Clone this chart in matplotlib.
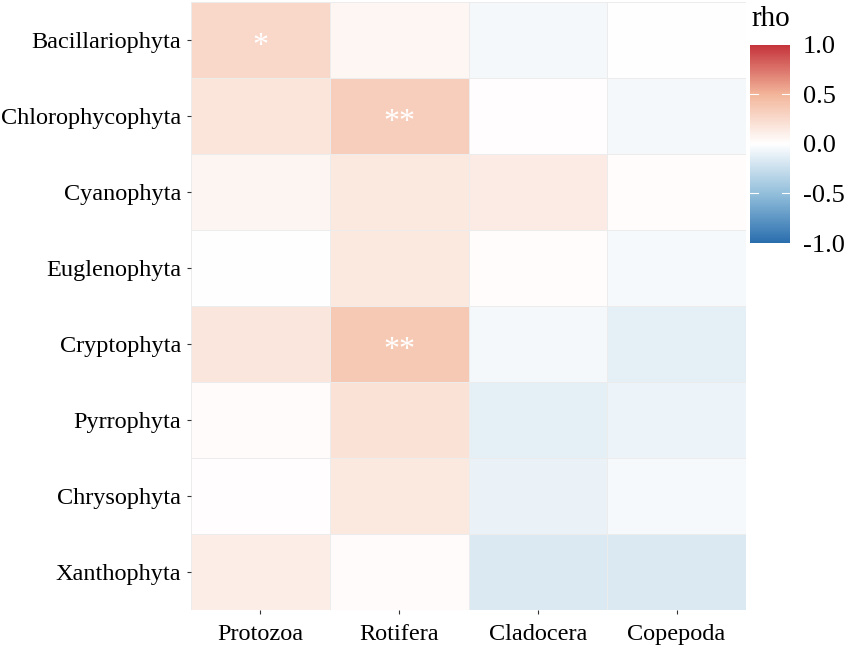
import numpy as np
import matplotlib.pyplot as plt
from matplotlib.colors import LinearSegmentedColormap

plt.rcParams['font.family'] = ['Liberation Serif', 'DejaVu Serif']

phyto = ['Bacillariophyta', 'Chlorophycophyta', 'Cyanophyta', 'Euglenophyta',
         'Cryptophyta', 'Pyrrophyta', 'Chrysophyta', 'Xanthophyta']
zoo = ['Protozoa', 'Rotifera', 'Cladocera', 'Copepoda']

# rho values, rows = phyto, cols = zoo
rho = np.array([
    [0.27, 0.06, -0.05, 0.00],
    [0.18, 0.33, 0.01, -0.05],
    [0.07, 0.15, 0.14, 0.02],
    [0.00, 0.15, 0.02, -0.04],
    [0.17, 0.37, -0.05, -0.12],
    [0.03, 0.20, -0.12, -0.09],
    [0.01, 0.15, -0.10, -0.04],
    [0.12, 0.03, -0.17, -0.17],
])
stars = [['*', '', '', ''],
         ['', '**', '', ''],
         ['', '', '', ''],
         ['', '', '', ''],
         ['', '**', '', ''],
         ['', '', '', ''],
         ['', '', '', ''],
         ['', '', '', '']]

cmap = LinearSegmentedColormap.from_list(
    'rho', [(0.0, '#2A6EAE'), (0.25, '#93BFDB'), (0.5, '#FFFFFF'),
            (0.75, '#F3B69B'), (1.0, '#C5343C')])

fig = plt.figure(figsize=(8.51, 6.45), dpi=100)
ax = fig.add_axes([191/851, 35/645, 555/851, 608/645])

nr, nc = rho.shape
mesh = ax.pcolormesh(np.arange(nc + 1), np.arange(nr + 1), rho, cmap=cmap,
                     vmin=-1, vmax=1, edgecolor='#ECECEC', linewidth=0.6)
ax.set_xlim(0, nc)
ax.set_ylim(nr, 0)
for i in range(nr):
    for j in range(nc):
        if stars[i][j]:
            # asterisk glyph sits high in its box, nudge it down
            ax.text(j + 0.5, i + 0.58, stars[i][j], ha='center', va='center',
                    color='white', fontsize=23)

ax.set_xticks(np.arange(nc) + 0.5)
ax.set_xticklabels(zoo, fontsize=17.5)
ax.set_yticks(np.arange(nr) + 0.5)
ax.set_yticklabels(phyto, fontsize=17.5)
ax.tick_params(length=3, width=0.8, color='#333333', pad=4)
ax.tick_params(axis='x', pad=7)
for s in ax.spines.values():
    s.set_visible(False)

cax = fig.add_axes([750/851, 1 - 243/645, 40/851, 198/645])
cb = fig.colorbar(mesh, cax=cax, ticks=[-1, -0.5, 0, 0.5, 1])
cb.outline.set_visible(False)
cb.ax.set_yticklabels(['-1.0', '-0.5', '0.0', '0.5', '1.0'], fontsize=19)
cb.ax.tick_params(length=0, pad=9)
for v in [-0.5, 0.5]:
    cb.ax.plot([0, 0.2], [v, v], color='white', lw=0.8)
    cb.ax.plot([0.8, 1], [v, v], color='white', lw=0.8)
cb.ax.set_xlim(0, 1)
fig.text(751/851, 1 - 19/645, 'rho', fontsize=21, va='center', ha='left')

fig.savefig('out.png', dpi=100)
